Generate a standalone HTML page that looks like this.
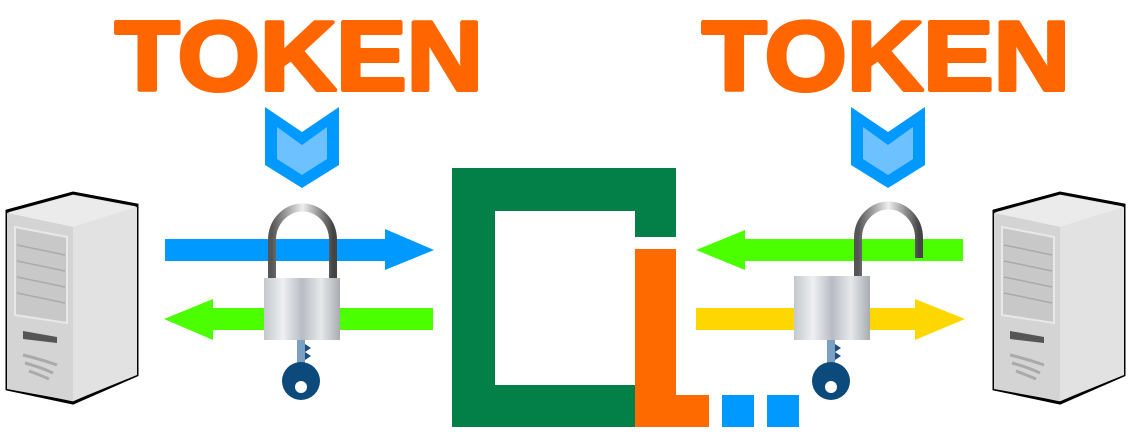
<!DOCTYPE html>
<html><head><meta charset="utf-8"><style>
html,body{margin:0;padding:0;background:#fff;width:1132px;height:447px;overflow:hidden}
</style></head><body>
<svg width="1132" height="447" viewBox="0 0 1132 447" xmlns="http://www.w3.org/2000/svg">
<defs>
<linearGradient id="body" x1="0" x2="1" y1="0" y2="0">
<stop offset="0" stop-color="#c4c8cc"/><stop offset="0.25" stop-color="#eef0f2"/><stop offset="0.5" stop-color="#b8bcc2"/><stop offset="0.75" stop-color="#e6e8ea"/><stop offset="1" stop-color="#a8acb2"/></linearGradient>
<linearGradient id="shk" x1="0" x2="1"><stop offset="0" stop-color="#555"/><stop offset="0.5" stop-color="#eee"/><stop offset="1" stop-color="#444"/></linearGradient>
<g id="server">
<path d="M2,18 L68,0 L132,12 L132,182 L68,210 L2,196 Z" fill="#d0d0d0" stroke="#000" stroke-width="3"/>
<path d="M68,34 L132,14 L132,182 L68,208 Z" fill="#e2e2e2"/>
<path d="M2,20 L68,2 L132,14 L68,34 Z" fill="#ebebeb"/>
<path d="M2,20 L68,34 L68,208 L2,196 Z" fill="#d4d4d4"/>
<path d="M10,34 L62,44 L62,130 L10,122 Z" fill="#c8c8c8" stroke="#e8e8e8" stroke-width="2"/>
<g stroke="#aaa" stroke-width="1.5"><line x1="12" y1="52" x2="60" y2="62"/><line x1="12" y1="68" x2="60" y2="78"/><line x1="12" y1="84" x2="60" y2="94"/><line x1="12" y1="100" x2="60" y2="110"/></g>
<path d="M18,138 L52,144 L52,150 L18,146 Z" fill="#555"/>
<path d="M18,162 Q35,166 52,172 M20,170 Q35,174 48,180 M24,178 Q35,182 44,186" stroke="#aaa" stroke-width="3" fill="none"/>
</g>
<g id="chev"><path d="M0,0 L37,25 L74,0 L74,58 L37,81 L0,58 Z" fill="#0099ff"/><path d="M12,20 L37,38 L62,20 L62,52 L37,68 L12,52 Z" fill="#6ec1ff"/></g>
<g id="key"><rect x="-4" y="0" width="8" height="30" fill="#7a9fc0"/><path d="M4,4 l6,4 -6,4 6,4 -6,4 z" fill="#1a4d80"/><circle cx="0" cy="41" r="19" fill="#0b4a7a"/><circle cx="0" cy="47" r="6" fill="#fff"/></g>
</defs>
<g font-family="Liberation Sans, sans-serif" font-weight="bold" font-size="98" fill="#ff6600" stroke="#ff6600" stroke-width="4" stroke-linejoin="round">
<text x="299" y="90" text-anchor="middle" textLength="368" lengthAdjust="spacingAndGlyphs">TOKEN</text>
<text x="886" y="90" text-anchor="middle" textLength="368" lengthAdjust="spacingAndGlyphs">TOKEN</text>
</g>
<use href="#chev" x="265" y="107"/>
<use href="#chev" x="851" y="107"/>
<use href="#server" x="5" y="193"/>
<use href="#server" x="992" y="193"/>
<rect x="165" y="239" width="222" height="22" fill="#0099ff"/><path d="M385,229 L434,250 L385,270 Z" fill="#0099ff"/>
<rect x="211" y="308" width="222" height="22" fill="#4cff00"/><path d="M213,299 L164,319 L213,340 Z" fill="#4cff00"/>
<rect x="743" y="239" width="220" height="22" fill="#4cff00"/><path d="M745,230 L696,250 L745,270 Z" fill="#4cff00"/>
<rect x="696" y="308" width="221" height="22" fill="#ffd700"/><path d="M915,299 L965,319 L915,340 Z" fill="#ffd700"/>
<path d="M272,280 L272,240 A30,32 0 0 1 333,240 L333,280" fill="none" stroke="url(#shk)" stroke-width="8"/>
<rect x="264" y="278" width="76" height="62" fill="url(#body)"/>
<use href="#key" x="301" y="340"/>
<path d="M858,278 L858,238 A30,32 0 0 1 919,238 L919,258" fill="none" stroke="url(#shk)" stroke-width="8"/>
<rect x="794" y="276" width="76" height="64" fill="url(#body)"/>
<use href="#key" x="831" y="340"/>
<path d="M452,168 L676,168 L676,237 L635,237 L635,211 L495,211 L495,385 L635,385 L635,427 L452,427 Z" fill="#038047"/>
<path d="M635,249 L676,249 L676,395 L709,395 L709,427 L635,427 Z" fill="#ff6a00"/>
<rect x="722" y="395" width="32" height="32" fill="#0099ff"/>
<rect x="767" y="395" width="32" height="32" fill="#0099ff"/>
</svg>
</body></html>
